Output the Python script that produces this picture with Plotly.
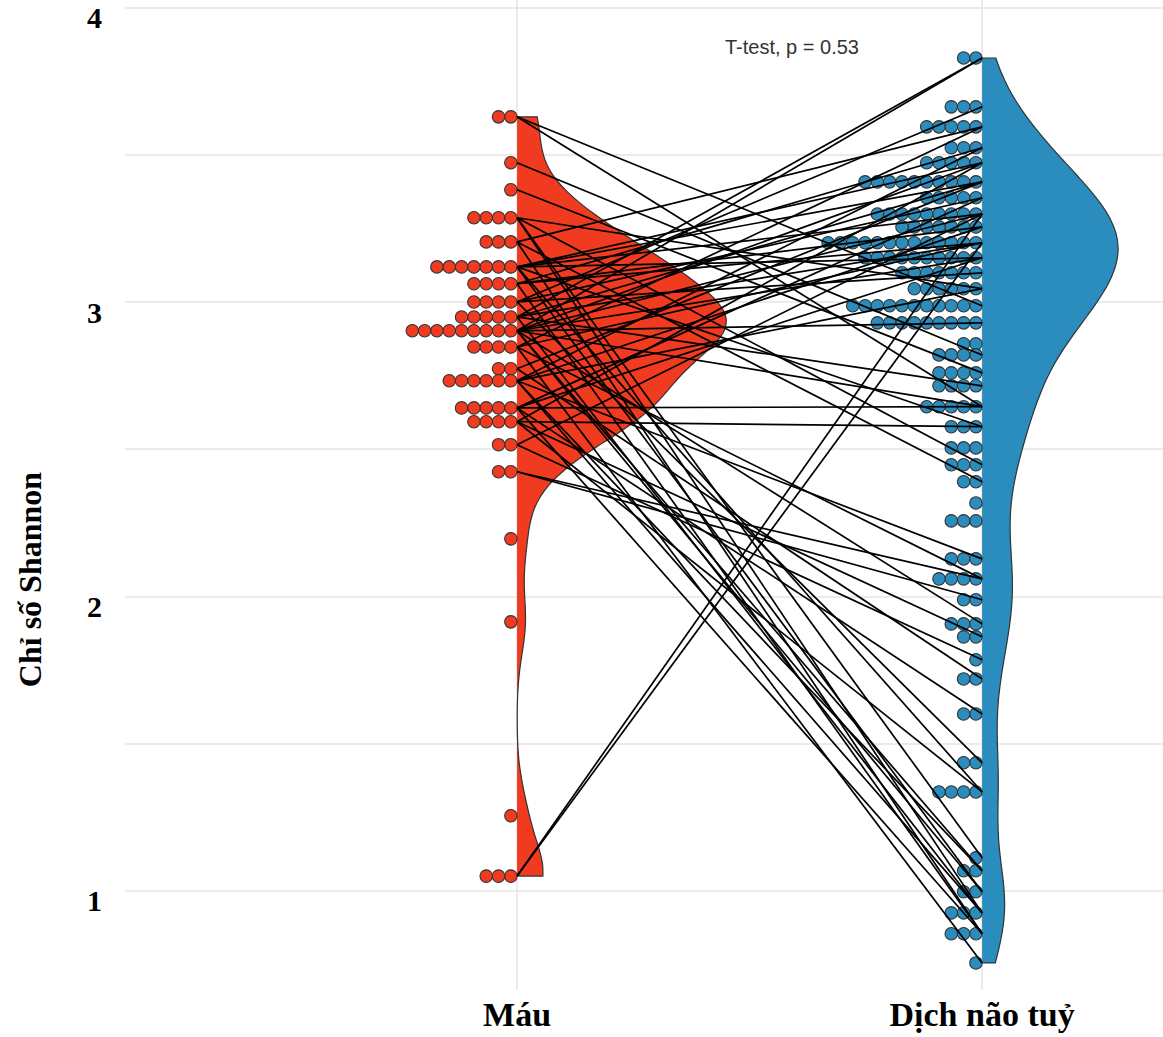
import numpy as np
import plotly.graph_objects as go

# Shannon index levels (dot-plot rows) and number of samples per row
mau_levels = [3.630, 3.474, 3.382, 3.287, 3.205, 3.120, 3.063, 3.001, 2.950, 2.903,
              2.848, 2.774, 2.733, 2.641, 2.594, 2.516, 2.424, 2.196, 1.914, 1.255, 1.050]
mau_counts = [2, 1, 1, 4, 3, 7, 4, 4, 5, 9, 4, 2, 6, 5, 4, 2, 2, 1, 1, 1, 3]

dnt_levels = [3.830, 3.664, 3.596, 3.525, 3.474, 3.409, 3.355, 3.300, 3.256, 3.202,
              3.151, 3.100, 3.046, 2.988, 2.930, 2.859, 2.821, 2.760, 2.716, 2.645,
              2.577, 2.505, 2.448, 2.390, 2.318, 2.257, 2.128, 2.060, 1.989, 1.907,
              1.863, 1.785, 1.720, 1.601, 1.435, 1.336, 1.112, 1.068, 0.997, 0.925,
              0.854, 0.755]
dnt_counts = [2, 3, 5, 3, 5, 10, 5, 9, 7, 13, 10, 7, 6, 11, 9, 2, 4, 4, 4, 5,
              3, 3, 3, 2, 1, 3, 3, 4, 2, 3, 2, 1, 2, 2, 2, 4, 1, 2, 2, 3, 3, 1]

# Paired samples: blood value -> CSF value
pair_mau = [3.630, 3.630, 3.474, 3.382, 3.287, 3.287, 3.287, 3.287, 3.205, 3.205,
            3.205, 3.120, 3.120, 3.120, 3.120, 3.120, 3.120, 3.120, 3.063, 3.063,
            3.063, 3.063, 3.001, 3.001, 3.001, 3.001, 2.950, 2.950, 2.950, 2.950,
            2.950, 2.903, 2.903, 2.903, 2.903, 2.903, 2.903, 2.903, 2.903, 2.903,
            2.848, 2.848, 2.848, 2.848, 2.774, 2.774, 2.733, 2.733, 2.733, 2.733,
            2.733, 2.733, 2.641, 2.641, 2.641, 2.641, 2.641, 2.594, 2.594, 2.594,
            2.594, 2.516, 2.516, 2.424, 2.424, 1.050, 1.050]
pair_dnt = [2.988, 2.645, 2.821, 2.760, 2.448, 0.925, 1.112, 3.046, 3.596, 0.854,
            2.390, 3.474, 3.409, 3.300, 0.997, 1.336, 3.151, 2.577, 3.525, 3.256,
            0.854, 3.202, 3.664, 3.355, 1.435, 3.100, 3.409, 3.202, 0.925, 2.716,
            3.830, 3.830, 2.930, 3.474, 3.300, 1.068, 1.907, 3.151, 2.645, 0.997,
            3.596, 3.202, 0.755, 2.060, 3.409, 1.720, 3.525, 3.256, 0.925, 2.128,
            3.046, 1.068, 2.645, 3.355, 1.601, 0.854, 3.151, 2.577, 3.474, 1.336,
            1.863, 3.300, 1.785, 2.060, 1.989, 3.300, 3.202]

categories = ["Máu", "Dịch não tuỷ"]
cat_pos = [1, 2]
y_ticks = [1, 2, 3, 4]
p_label = "T-test, p = 0.53"

RED = "#F03B20"
BLUE = "#2B8CBE"
EDGE = "#333333"
DOT_STEP = 0.0265          # horizontal spacing of stacked dots (x units)
SERIF = "Liberation Serif"


def stacked_dots(levels, counts, center):
    xs, ys = [], []
    for lv, n in zip(levels, counts):
        for k in range(n):
            xs.append(center - (k + 0.5) * DOT_STEP)
            ys.append(lv)
    return xs, ys


mau_values = np.repeat(mau_levels, mau_counts)
dnt_values = np.repeat(dnt_levels, dnt_counts)

fig = go.Figure()

# half violins
for vals, pos, col, w, bw in [(mau_values, cat_pos[0], RED, 0.90, 0.11),
                              (dnt_values, cat_pos[1], BLUE, 0.585, 0.15)]:
    fig.add_trace(go.Violin(
        x0=pos, y=vals, side="positive", width=w, bandwidth=bw,
        spanmode="hard", points=False, box_visible=False, meanline_visible=False,
        fillcolor=col, opacity=1, line=dict(color=EDGE, width=1.2),
        hoverinfo="skip", showlegend=False, scalemode="width",
    ))

# dot plots
for levels, counts, pos, col in [(mau_levels, mau_counts, cat_pos[0], RED),
                                 (dnt_levels, dnt_counts, cat_pos[1], BLUE)]:
    dx, dy = stacked_dots(levels, counts, pos)
    fig.add_trace(go.Scatter(
        x=dx, y=dy, mode="markers",
        marker=dict(size=12.5, color=col, line=dict(color=EDGE, width=1.1)),
        hoverinfo="skip", showlegend=False,
    ))

# paired lines
lx, ly = [], []
for a, b in zip(pair_mau, pair_dnt):
    lx += [cat_pos[0], cat_pos[1], None]
    ly += [a, b, None]
fig.add_trace(go.Scatter(x=lx, y=ly, mode="lines",
                         line=dict(color="black", width=1.7),
                         hoverinfo="skip", showlegend=False))

fig.add_annotation(x=1.591, y=3.868, xref="x", yref="y", text=p_label,
                   showarrow=False,
                   font=dict(family="Liberation Sans", size=20, color="#333333"))

fig.add_annotation(x=-0.0915, y=0.414, xref="paper", yref="paper",
                   xanchor="center", yanchor="middle",
                   text="Chỉ số Shannon", textangle=-90, showarrow=False,
                   font=dict(family=SERIF, size=32, color="black", weight="bold"))

fig.update_layout(
    width=1163, height=1037,
    margin=dict(l=125, r=0, t=0, b=47),
    plot_bgcolor="white", paper_bgcolor="white",
    violinmode="overlay",
    xaxis=dict(range=[0.157, 2.389], tickvals=cat_pos, ticktext=categories,
               showgrid=True, gridcolor="#EBEBEB", gridwidth=1.5,
               zeroline=False, showline=False, ticks="", automargin=False,
               tickfont=dict(family=SERIF, size=34, color="black", weight="bold"),
               ticklabelstandoff=1),
    yaxis=dict(range=[0.663, 4.027], tickvals=y_ticks,
               showgrid=True, gridcolor="#EBEBEB", gridwidth=1.5,
               minor=dict(dtick=0.5, showgrid=True, gridcolor="#EBEBEB", gridwidth=1.5),
               zeroline=False, showline=False, ticks="", automargin=False,
               tickfont=dict(family=SERIF, size=30, color="black", weight="bold"),
               ticklabelstandoff=22, ticklabeloverflow="allow", ticklabelshift=10),
)

fig.write_html("out.html")
